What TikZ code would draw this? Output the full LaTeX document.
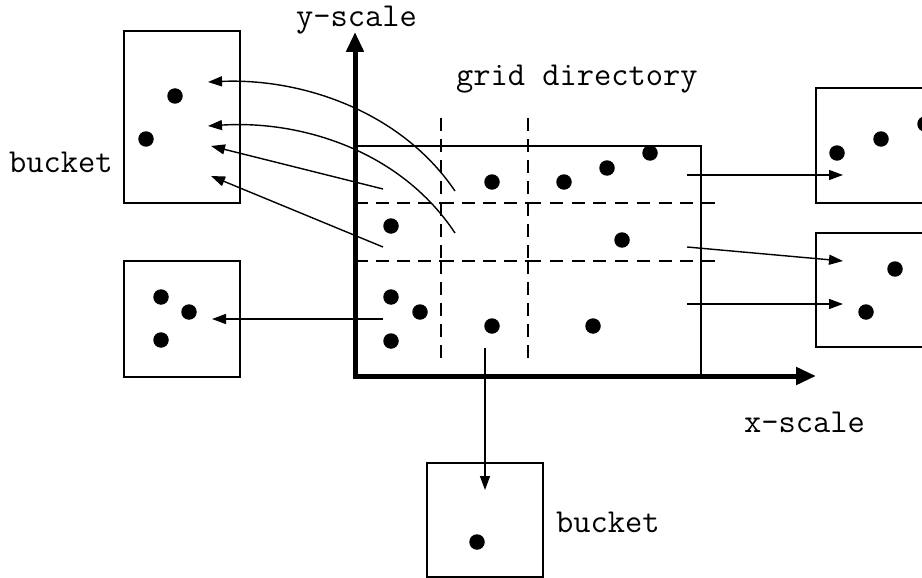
\documentclass[tikz,border=0pt]{standalone}
\usepackage{fontspec}
\usetikzlibrary{arrows.meta}
\begin{document}
\begin{tikzpicture}[x=1pt,y=-1pt,
  thin line/.style={line width=1.4pt},
  bucketbox/.style={draw,line width=1.4pt,inner sep=0pt,minimum width=116pt},
  dot/.style={circle,fill=black,inner sep=0pt,minimum size=15.5pt},
  ptr/.style={line width=1.4pt,-{Triangle[length=14pt,width=10pt]}},
  axis/.style={line width=5pt,-{Triangle[length=20pt,width=17pt]}},
  griddash/.style={line width=1.4pt,dash pattern=on 13pt off 8pt},
  griddashlong/.style={line width=1.4pt,dash pattern=on 13pt off 8.75pt},
  lbl/.style={font=\ttfamily\fontsize{33.5}{38}\selectfont,inner sep=0pt,anchor=base west}]
\useasboundingbox (0,0) rectangle (922,578);
\clip (0,0) rectangle (922,578);

% buckets
\node[bucketbox,minimum height=172pt] (bTL) at (182,117) {};
\node[bucketbox,minimum height=116pt] (bBL) at (182,319) {};
\node[bucketbox,minimum height=114pt] (bB)  at (485,520) {};
\node[bucketbox,minimum height=115pt] (bTR) at (874,145.5) {};
\node[bucketbox,minimum height=114pt] (bBR) at (874,290) {};

% grid directory rectangle
\draw[thin line] (355,146) rectangle (701,376);

% dashed grid
\draw[griddash] (441,118) -- (441,203);
\draw[griddash] (441,203) -- (441,261);
\draw[griddash] (441,261) -- (441,362);
\draw[griddash] (528,118) -- (528,203);
\draw[griddash] (528,203) -- (528,261);
\draw[griddash] (528,261) -- (528,362);
\draw[griddash] (355,203) -- (441,203);
\draw[griddash] (441,203) -- (528,203);
\draw[griddashlong] (528,203) -- (715,203);
\draw[griddash] (355,261) -- (441,261);
\draw[griddash] (441,261) -- (528,261);
\draw[griddashlong] (528,261) -- (715,261);

% axes
\coordinate (O) at (355,376);
\coordinate (ytip) at (355,32);
\coordinate (xtip) at (816,376);
\draw[axis] (355,378.5) -- (ytip);
\draw[axis] (352.5,376) -- (xtip);

% data points in grid
\node[dot] (d1) at (492,182) {};
\node[dot] (d2) at (564,182) {};
\node[dot] (d3) at (607,168) {};
\node[dot] (d4) at (650,153) {};
\node[dot] (d5) at (391,226) {};
\node[dot] (d6) at (622,240) {};
\node[dot] (d7) at (391,297) {};
\node[dot] (d8) at (420,312) {};
\node[dot] (d9) at (391,341) {};
\node[dot] (d10) at (492,326) {};
\node[dot] (d11) at (593,326) {};

% data points in buckets
\node[dot] (t1) at (175,96) {};
\node[dot] (t2) at (146,139) {};
\node[dot] (l1) at (161,297) {};
\node[dot] (l2) at (189,312) {};
\node[dot] (l3) at (161,340) {};
\node[dot] (b1) at (477,542) {};
\node[dot] (r1) at (837,153) {};
\node[dot] (r2) at (881,139) {};
\node[dot] (r3) at (925,124) {};
\node[dot] (s1) at (895,269) {};
\node[dot] (s2) at (866,312) {};

% pointer endpoints
\coordinate (c1s) at (455,191);  \coordinate (c1e) at (208,82);
\coordinate (c2s) at (455,233);  \coordinate (c2e) at (208,126);
\coordinate (c3s) at (383,189);  \coordinate (c3e) at (211,146);
\coordinate (c4s) at (383,247);  \coordinate (c4e) at (211,176);
\coordinate (c5s) at (383,319);  \coordinate (c5e) at (212,319);
\coordinate (c6s) at (485,348);  \coordinate (c6e) at (485,490);
\coordinate (c7s) at (687,175);  \coordinate (c7e) at (843,175);
\coordinate (c8s) at (687,247);  \coordinate (c8e) at (843,261);
\coordinate (c9s) at (687,304);  \coordinate (c9e) at (843,304);

\draw[ptr] (c1s) .. controls (400,110) and (300,78) .. (c1e);
\draw[ptr] (c2s) .. controls (400,150) and (300,120) .. (c2e);
\draw[ptr] (c3s) -- (c3e);
\draw[ptr] (c4s) -- (c4e);
\draw[ptr] (c5s) -- (c5e);
\draw[ptr] (c6s) -- (c6e);
\draw[ptr] (c7s) -- (c7e);
\draw[ptr] (c8s) -- (c8e);
\draw[ptr] (c9s) -- (c9e);

% labels
\node[lbl] (ys) at (296,27) {y-scale};
\node[lbl] (gd) at (456,86) {grid directory};
\node[lbl] (bk1) at (9,172) {bucket};
\node[lbl] (xs) at (744,432) {x-scale};
\node[lbl] (bk2) at (556,532) {bucket};
\end{tikzpicture}
\end{document}
